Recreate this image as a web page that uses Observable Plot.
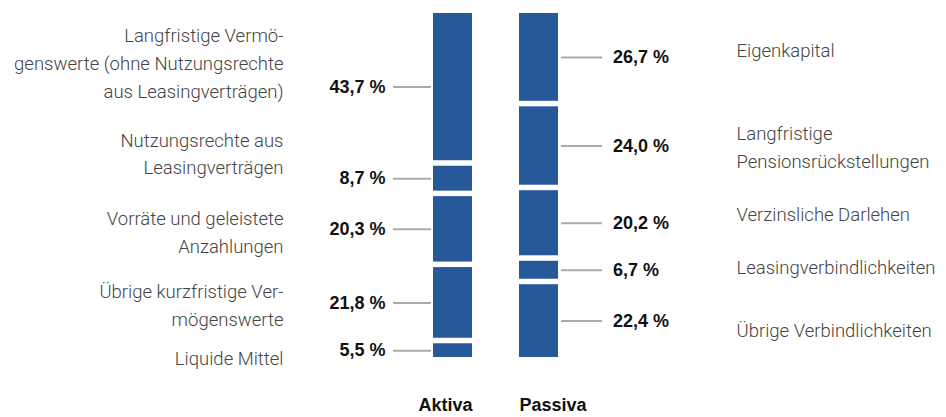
<!DOCTYPE html>
<html><head><meta charset="utf-8">
<script src="https://cdn.jsdelivr.net/npm/d3@7"></script>
<script src="https://cdn.jsdelivr.net/npm/@observablehq/plot@0.6"></script>
<style>html,body{margin:0;padding:0;background:#fff}</style>
</head><body><div id="chart"></div>
<script>
// ---- data ----
const sides = ["Aktiva", "Passiva"];
const aktivaCategories = [
  "Langfristige Vermö-\ngenswerte (ohne Nutzungsrechte\naus Leasingverträgen)",
  "Nutzungsrechte aus\nLeasingverträgen",
  "Vorräte und geleistete\nAnzahlungen",
  "Übrige kurzfristige Ver-\nmögenswerte",
  "Liquide Mittel"
];
const aktivaValues = [43.7, 8.7, 20.3, 21.8, 5.5];
const passivaCategories = [
  "Eigenkapital",
  "Langfristige\nPensionsrückstellungen",
  "Verzinsliche Darlehen",
  "Leasingverbindlichkeiten",
  "Übrige Verbindlichkeiten"
];
const passivaValues = [26.7, 24.0, 20.2, 6.7, 22.4];

// ---- layout (pixel offsets of the category labels from the segment middles) ----
const aktivaLabelShift = [-26, -27, 1, 0, 5];
const passivaLabelShift = [-9, -1, -11, -5, 7];

function segments(side, cats, vals) {
  let acc = 0;
  return vals.map((v, i) => {
    const s = {side, category: cats[i], value: v, y1: acc, y2: acc + v, i};
    s.mid = (s.y1 + s.y2) / 2;
    acc += v;
    return s;
  });
}
const aktiva = segments("Aktiva", aktivaCategories, aktivaValues);
const passiva = segments("Passiva", passivaCategories, passivaValues);
const rows = [...aktiva, ...passiva];
const fmt = v => v.toFixed(1).replace(".", ",") + " %";

const blue = "#27589a";
const labelFont = {fontFamily: "Roboto", fontWeight: 300, fontSize: 18.5, fill: "#444", lineHeight: 1.5};
const valueFont = {fontFamily: "Liberation Sans, Arial, sans-serif", fontWeight: "bold", fontSize: 18, fill: "#111"};

const marks = [
  Plot.barY(rows, {x: "side", y1: "y1", y2: "y2", fill: blue, insetTop: 2.75, insetBottom: 2.75}),
  Plot.tickY(aktiva, {x: "side", y: "mid", stroke: "#aaa", strokeWidth: 2, dx: -40, insetRight: 1}),
  Plot.tickY(passiva, {x: "side", y: "mid", stroke: "#aaa", strokeWidth: 2, dx: 42, insetRight: -2}),
  Plot.text(aktiva, {x: "side", y: "mid", text: d => fmt(d.value), textAnchor: "end", dx: -67.5, ...valueFont}),
  Plot.text(passiva, {x: "side", y: "mid", text: d => fmt(d.value), textAnchor: "start", dx: 74, ...valueFont}),
  ...aktiva.map((d, i) => Plot.text([d], {x: "side", y: "mid", text: "category", textAnchor: "end", dx: -169.5, dy: aktivaLabelShift[i], ...labelFont})),
  ...passiva.map((d, i) => Plot.text([d], {x: "side", y: "mid", text: "category", textAnchor: "start", dx: 197.5, dy: passivaLabelShift[i], ...labelFont})),
  Plot.text([sides[0]], {x: d => d, text: d => d, frameAnchor: "bottom", dy: -7, textAnchor: "end", dx: 19.5, ...valueFont}),
  Plot.text([sides[1]], {x: d => d, text: d => d, frameAnchor: "bottom", dy: -7, textAnchor: "start", dx: -19.5, ...valueFont})
];

const chart = Plot.plot({
  width: 946,
  height: 417,
  margin: 0,
  style: {background: "#fff", overflow: "visible"},
  x: {domain: sides, range: [385.5, 606], padding: 0.549, axis: null},
  y: {domain: [0, 100], range: [10.25, 359.75], axis: null},
  marks
});
document.getElementById("chart").appendChild(chart);
</script>
</body></html>
